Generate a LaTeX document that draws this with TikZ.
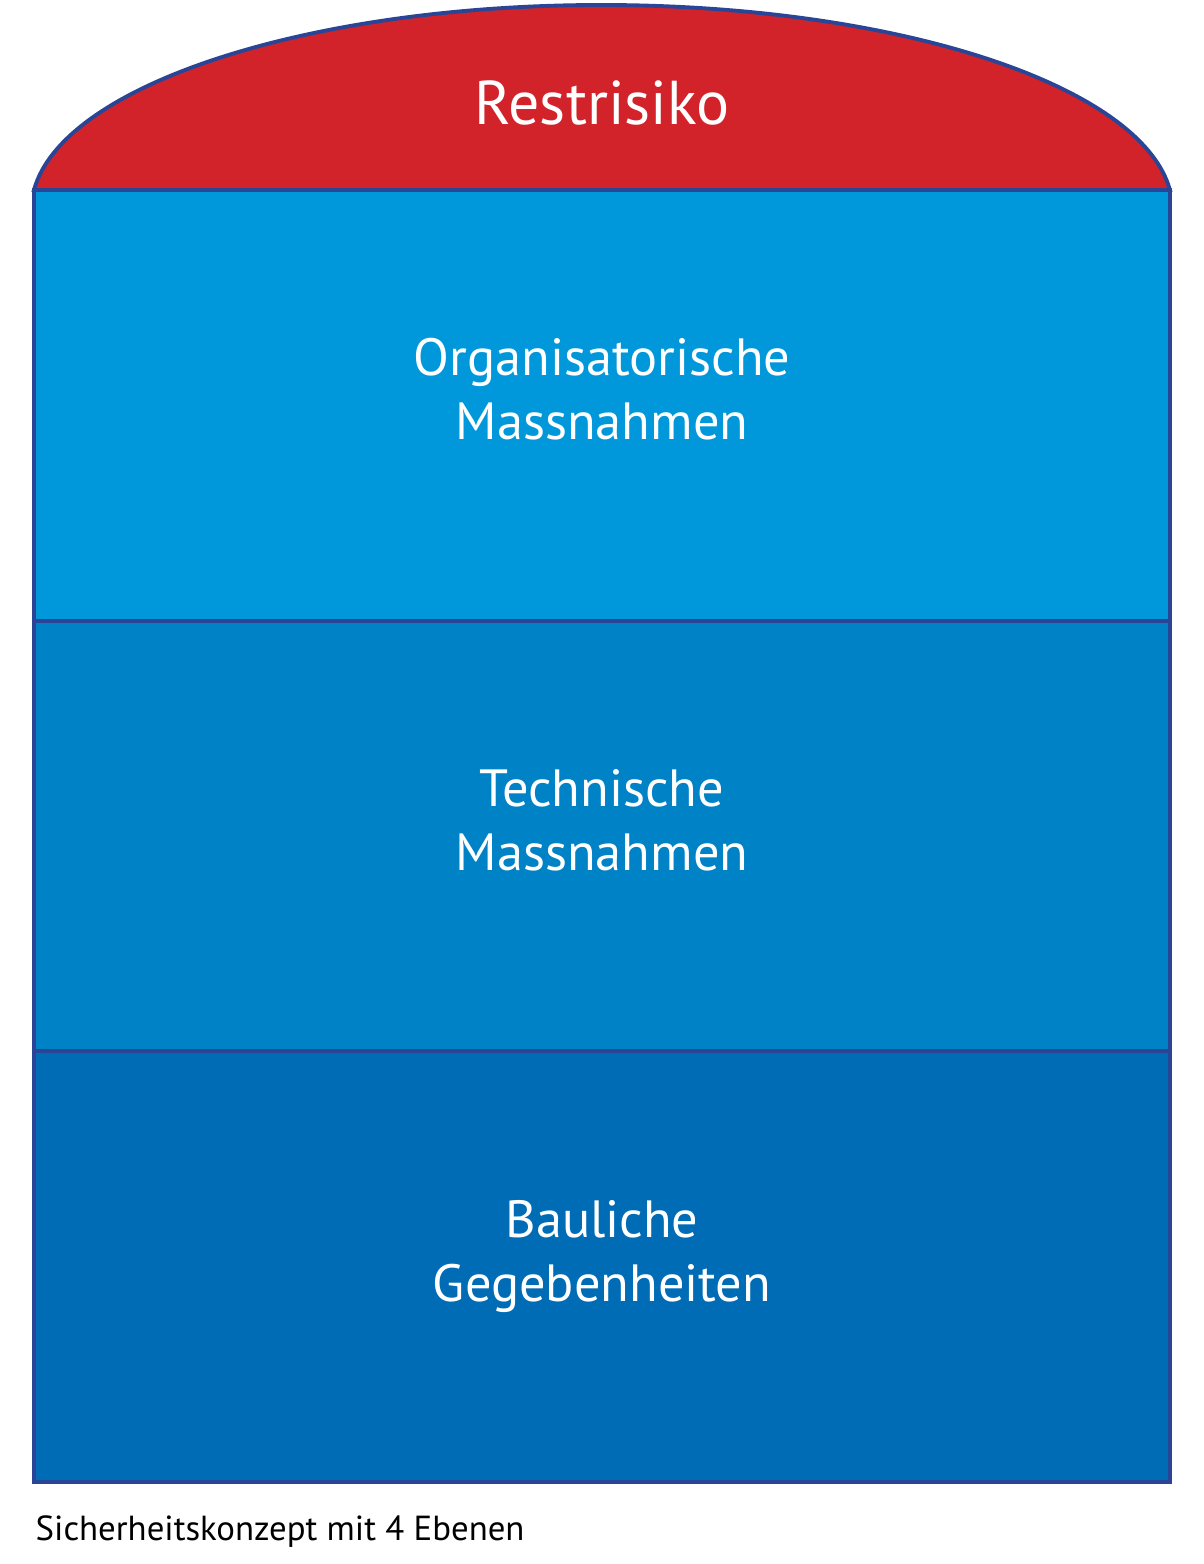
\documentclass[tikz,border=0pt]{standalone}
\usepackage{fontspec}
\setmainfont{PT Sans}
\usepackage{tikz}
\usetikzlibrary{calc}

\definecolor{rimblue}{HTML}{2A4596}
\definecolor{riskred}{HTML}{D2232A}
\definecolor{orgblue}{HTML}{0098DA}
\definecolor{techblue}{HTML}{0082C7}
\definecolor{baublue}{HTML}{006CB6}

\begin{document}
\begin{tikzpicture}[
    layertext/.style={text=white, align=center, font=\fontsize{14.9}{18.4}\selectfont, anchor=base}
  ]
        \useasboundingbox (0,0) rectangle (12.04,15.64);

        % Layers from bottom to top
        \fill[baublue] (0.34,0.82) rectangle (11.70,5.13);
        \fill[techblue] (0.34,5.13) rectangle (11.70,9.43);
        \fill[orgblue] (0.34,9.43) rectangle (11.70,13.74);

        % Residual risk dome
        \filldraw[fill=riskred, draw=rimblue, line width=1.1pt]
            (0.34,13.74) arc[start angle=174.4, end angle=5.6, x radius=5.707, y radius=2.05] -- cycle;

        % Outline and dividers
        \draw[rimblue, line width=1.1pt] (0.34,13.74) rectangle (11.70,0.82);
        \draw[rimblue, line width=1.1pt] (0.34,9.43) -- (11.70,9.43);
        \draw[rimblue, line width=1.1pt] (0.34,5.13) -- (11.70,5.13);

        % Label contents
        \node[layertext, font=\fontsize{17.6}{20}\selectfont] (rest) at (6.02,14.39) {Restrisiko};
        \node[layertext] (org) at (6.02,11.24) {Organisatorische\\Massnahmen};
        \node[layertext] (tech) at (6.02,6.93) {Technische\\Massnahmen};
        \node[layertext] (bau) at (6.02,2.62) {Bauliche\\Gegebenheiten};

        % Caption
        \node[anchor=base west, inner sep=0pt, font=\fontsize{9.9}{12}\selectfont] (caption) at (0.35,0.23) {Sicherheitskonzept mit 4 Ebenen};
    \end{tikzpicture}
\end{document}
